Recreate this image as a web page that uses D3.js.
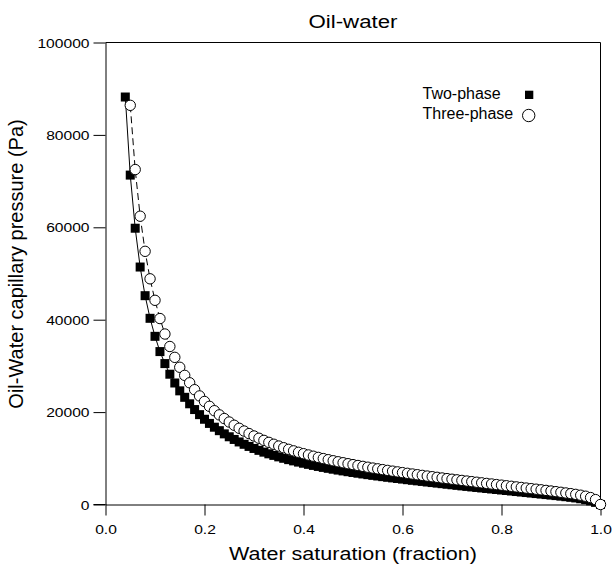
<!DOCTYPE html>
<html><head><meta charset="utf-8">
<script src="https://cdn.jsdelivr.net/npm/d3@7"></script>
<style>body{margin:0;background:#fff}</style>
</head><body>
<script>
const chartTitle = "Oil-water";
const xTitle = "Water saturation (fraction)";
const yTitle = "Oil-Water capillary pressure (Pa)";
const seriesNames = ["Two-phase", "Three-phase"];
const xTicks = [0.0, 0.2, 0.4, 0.6, 0.8, 1.0];
const yTicks = [0, 20000, 40000, 60000, 80000, 100000];

const sw = [0.04,0.05,0.06,0.07,0.08,0.09,0.10,0.11,0.12,0.13,0.14,0.15,0.16,0.17,0.18,0.19,
0.20,0.21,0.22,0.23,0.24,0.25,0.26,0.27,0.28,0.29,0.30,0.31,0.32,0.33,0.34,0.35,0.36,0.37,0.38,0.39,
0.40,0.41,0.42,0.43,0.44,0.45,0.46,0.47,0.48,0.49,0.50,0.51,0.52,0.53,0.54,0.55,0.56,0.57,0.58,0.59,
0.60,0.61,0.62,0.63,0.64,0.65,0.66,0.67,0.68,0.69,0.70,0.71,0.72,0.73,0.74,0.75,0.76,0.77,0.78,0.79,
0.80,0.81,0.82,0.83,0.84,0.85,0.86,0.87,0.88,0.89,0.90,0.91,0.92,0.93,0.94,0.95,0.96,0.97,0.98,0.99,1.00];

const pcTwo = [88200,71300,59800,51400,45200,40300,36400,33100,30500,28200,26300,24600,23200,21800,20550,19450,
18450,17550,16730,15980,15290,14660,14080,13540,13030,12570,12130,11720,11330,10970,10630,10310,10000,9710,9440,9180,
8930,8690,8460,8240,8030,7830,7640,7450,7270,7100,6930,6770,6610,6460,6310,6170,6030,5890,5760,5630,
5500,5370,5240,5120,5000,4870,4750,4630,4510,4390,4270,4150,4030,3920,3800,3690,3580,3470,3360,3250,
3140,3030,2920,2810,2700,2590,2480,2370,2260,2150,2040,1930,1810,1690,1560,1420,1250,1040,780,460,0];

const pcThree = [null,86400,72500,62400,54800,48850,44200,40250,36900,34200,31850,29700,27950,26350,24850,23500,
22300,21250,20300,19400,18600,17850,17150,16500,15900,15350,14830,14340,13880,13450,13040,12650,12290,11940,11610,11300,
11000,10720,10450,10190,9940,9700,9470,9250,9040,8830,8630,8440,8250,8070,7890,7720,7550,7380,7220,7060,
6900,6750,6600,6450,6300,6160,6020,5880,5740,5600,5470,5340,5210,5080,4950,4820,4690,4560,4440,4310,
4190,4060,3940,3810,3690,3560,3430,3310,3180,3050,2920,2780,2640,2500,2350,2190,2010,1790,1500,1060,0];

const W = 612, H = 565;
const svg = d3.select("body").append("svg").attr("width", W).attr("height", H);
const x = d3.scaleLinear().domain([0, 1]).range([105.5, 600.5]);
const y = d3.scaleLinear().domain([0, 100000]).range([504.5, 42.5]);
const SANS = "Liberation Sans, Arial, sans-serif";
const SX = 1.25; // horizontal stretch of the reference lettering

const two = sw.map((s, i) => ({x: s, y: pcTwo[i]}));
const three = sw.map((s, i) => ({x: s, y: pcThree[i]})).filter(d => d.y !== null);

// frame
svg.append("path").attr("d", `M${x(0)},${y(100000)}H${x(1)}V${y(0)}`)
  .attr("fill", "none").attr("stroke", "#000").attr("stroke-width", 1);

const xAxis = svg.append("g").attr("transform", `translate(0,${y(0)})`)
  .call(d3.axisBottom(x).tickValues(xTicks).tickFormat(d3.format(".1f")).tickSize(11).tickSizeOuter(0));
const yAxis = svg.append("g").attr("transform", `translate(${x(0)},0)`)
  .call(d3.axisLeft(y).tickValues(yTicks).tickFormat(d => String(d)).tickSize(12).tickSizeOuter(0));
[xAxis, yAxis].forEach(g => {
  g.select(".domain").attr("stroke", "#000");
  g.selectAll(".tick line").attr("stroke", "#000");
  g.selectAll("text").attr("font-family", SANS).attr("font-size", "12.5px").attr("fill", "#000");
});
xAxis.selectAll("text").attr("dy", "0").attr("y", 29.5).attr("transform", `scale(${SX},1)`);
yAxis.selectAll("text").attr("x", -16 / SX).attr("dy", "0.36em").attr("transform", `scale(${SX},1)`);
svg.append("line").attr("x1", x(0) - 12).attr("x2", x(0)).attr("y1", y(0)).attr("y2", y(0)).attr("stroke", "#000");

// lines
const line = d3.line().x(d => x(d.x)).y(d => y(d.y));
svg.append("path").datum(two).attr("d", line).attr("fill", "none").attr("stroke", "#000").attr("stroke-width", 1);
svg.append("path").datum(three).attr("d", line).attr("fill", "none").attr("stroke", "#000").attr("stroke-width", 1)
  .attr("stroke-dasharray", "7,4");

// markers
const sq = 9;
svg.append("g").selectAll("rect").data(two).join("rect")
  .attr("x", d => x(d.x) - sq / 2).attr("y", d => y(d.y) - sq / 2)
  .attr("width", sq).attr("height", sq).attr("fill", "#000");
svg.append("g").selectAll("circle").data(three).join("circle")
  .attr("cx", d => x(d.x)).attr("cy", d => y(d.y)).attr("r", 5.2)
  .attr("fill", "#fff").attr("stroke", "#000").attr("stroke-width", 1);

// titles
svg.append("text").attr("transform", `translate(${(x(0) + x(1)) / 2},27.5) scale(1.27,1)`).attr("text-anchor", "middle")
  .attr("font-family", SANS).attr("font-size", "17.5px").text(chartTitle);
svg.append("text").attr("transform", `translate(${(x(0) + x(1)) / 2},560) scale(1.23,1)`).attr("text-anchor", "middle")
  .attr("font-family", SANS).attr("font-size", "17.5px").text(xTitle);
svg.append("text").attr("transform", "translate(22.5,264) rotate(-90)").attr("text-anchor", "middle")
  .attr("font-family", SANS).attr("font-size", "20px").text(yTitle);

// legend
const lg = svg.append("g").attr("font-family", SANS).attr("font-size", "16px");
lg.append("text").attr("x", 422.5).attr("y", 99.3).text(seriesNames[0]);
lg.append("text").attr("x", 422.5).attr("y", 119.3).text(seriesNames[1]);
lg.append("rect").attr("x", 525).attr("y", 90.7).attr("width", 8.3).attr("height", 8.3).attr("fill", "#000");
lg.append("circle").attr("cx", 528.7).attr("cy", 115.5).attr("r", 6.2).attr("fill", "#fff").attr("stroke", "#000");
</script>
</body></html>
